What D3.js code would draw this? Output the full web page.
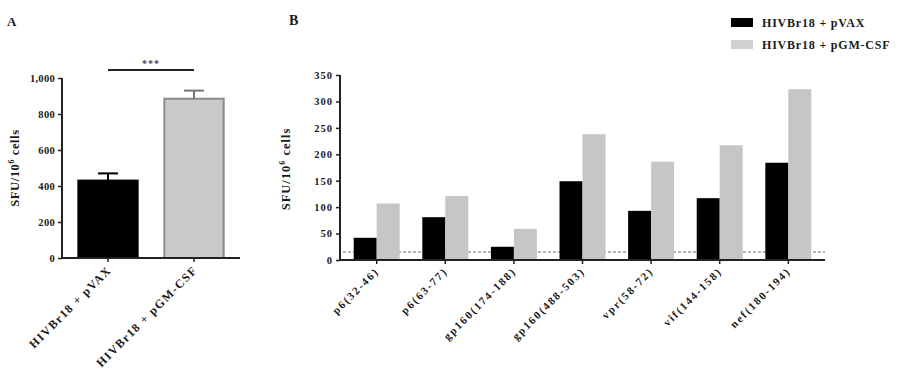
<!DOCTYPE html>
<html><head><meta charset="utf-8">
<script src="https://cdn.jsdelivr.net/npm/d3@7"></script>
<style>
body{margin:0;background:#fff;}
svg{display:block;font-family:"Liberation Serif","Times New Roman",serif;font-weight:bold;}
</style></head>
<body><svg id="c" width="914" height="374"></svg>
<script>
// Panel A data
const groupsA = ["HIVBr18 + pVAX", "HIVBr18 + pGM-CSF"];
const valuesA = [430, 885];
const errorsA = [40, 45];
const ticksA = [0, 200, 400, 600, 800, 1000];

// Panel B data
const epitopes = ["p6(32-46)", "p6(63-77)", "gp160(174-188)", "gp160(488-503)", "vpr(58-72)", "vif(144-158)", "nef(180-194)"];
const seriesNames = ["HIVBr18 + pVAX", "HIVBr18 + pGM-CSF"];
const pVAX = [42, 81, 25, 149, 93, 117, 184];
const pGMCSF = [107, 121, 59, 238, 186, 217, 323];
const ticksB = [0, 50, 100, 150, 200, 250, 300, 350];
const cutoffB = 15;

const svg = d3.select("#c");
const AX = "#222";
const TXT = "#1a1a1a";

// ---------- Panel A ----------
const gA = svg.append("g");
const yA = d3.scaleLinear().domain([0, 1000]).range([258, 78]);
const xA = d3.scaleBand().domain(groupsA).range([62, 240]).paddingInner(0.31).paddingOuter(0.19);

gA.append("text").attr("x", 7).attr("y", 26).attr("font-size", 13).attr("fill", TXT).text("A");

gA.selectAll("rect.bar").data(groupsA).join("rect")
  .attr("x", d => xA(d)).attr("width", xA.bandwidth())
  .attr("y", (d, i) => yA(valuesA[i])).attr("height", (d, i) => yA(0) - yA(valuesA[i]))
  .attr("fill", (d, i) => i === 0 ? "#000" : "#c9c9c9")
  .attr("stroke", (d, i) => i === 0 ? "#000" : "#8a8a8a").attr("stroke-width", 2);

// error bars
groupsA.forEach((d, i) => {
  const cx = xA(d) + xA.bandwidth() / 2;
  gA.append("line").attr("x1", cx).attr("x2", cx).attr("y1", yA(valuesA[i])).attr("y2", yA(valuesA[i] + errorsA[i]))
    .attr("stroke", i === 0 ? "#000" : "#777").attr("stroke-width", 2);
  gA.append("line").attr("x1", cx - 10).attr("x2", cx + 10).attr("y1", yA(valuesA[i] + errorsA[i])).attr("y2", yA(valuesA[i] + errorsA[i]))
    .attr("stroke", i === 0 ? "#000" : "#777").attr("stroke-width", 2);
});

const yAxisA = gA.append("g").attr("transform", "translate(62,0)")
  .call(d3.axisLeft(yA).tickValues(ticksA).tickSize(4).tickPadding(3).tickFormat(d3.format(",")))
  .attr("font-family", null).attr("font-size", null);
yAxisA.select(".domain").attr("stroke", AX).attr("stroke-width", 2).attr("d", `M0,${yA(1000)}V${yA(0)}`);
yAxisA.selectAll(".tick line").attr("stroke", AX).attr("stroke-width", 1.5);
yAxisA.selectAll("text").attr("font-size", 10.5).attr("fill", TXT).attr("letter-spacing", 0.3);

const xAxisA = gA.append("g").attr("transform", "translate(0,258)")
  .call(d3.axisBottom(xA).tickSize(4).tickFormat(""));
xAxisA.select(".domain").attr("stroke", AX).attr("stroke-width", 2).attr("d", "M62,0H240");
xAxisA.selectAll(".tick line").attr("stroke", AX).attr("stroke-width", 1.5);

groupsA.forEach(d => {
  const cx = xA(d) + xA.bandwidth() / 2;
  gA.append("text").attr("transform", `translate(${cx + 4},${271}) rotate(-45)`)
    .attr("text-anchor", "end").attr("font-size", 12).attr("letter-spacing", 1.3).attr("fill", TXT).text(d);
});

gA.append("text").attr("transform", "translate(19,168) rotate(-90)").attr("text-anchor", "middle")
  .attr("font-size", 12.5).attr("letter-spacing", 0.6).attr("fill", TXT)
  .html('SFU/10<tspan dy="-5" font-size="8">6</tspan><tspan dy="5"> cells</tspan>');

// significance
const cxA0 = xA(groupsA[0]) + xA.bandwidth() / 2, cxA1 = xA(groupsA[1]) + xA.bandwidth() / 2;
gA.append("line").attr("x1", cxA0).attr("x2", cxA1).attr("y1", 70).attr("y2", 70).attr("stroke", "#222").attr("stroke-width", 2);
gA.append("text").attr("x", (cxA0 + cxA1) / 2).attr("y", 67).attr("text-anchor", "middle").attr("font-size", 10).attr("letter-spacing", 1).attr("fill", "#444").text("***");

// ---------- Panel B ----------
const gB = svg.append("g");
const yB = d3.scaleLinear().domain([0, 350]).range([260, 75]);
const x0 = d3.scaleBand().domain(epitopes).range([340, 825]).paddingInner(0.33).paddingOuter(0.2);
const x1 = d3.scaleBand().domain(seriesNames).range([0, x0.bandwidth()]);
const colorsB = ["#000", "#c6c6c6"];

gB.append("text").attr("x", 289).attr("y", 25).attr("font-size", 14).attr("fill", TXT).text("B");

// cutoff dashed line (behind bars)
gB.append("line").attr("x1", 343).attr("x2", 825).attr("y1", yB(cutoffB)).attr("y2", yB(cutoffB))
  .attr("stroke", "#999").attr("stroke-width", 1.5).attr("stroke-dasharray", "3,2");

const seriesB = [pVAX, pGMCSF];
epitopes.forEach((ep, i) => {
  seriesNames.forEach((s, j) => {
    gB.append("rect").attr("x", x0(ep) + x1(s)).attr("width", x1.bandwidth())
      .attr("y", yB(seriesB[j][i])).attr("height", yB(0) - yB(seriesB[j][i]))
      .attr("fill", colorsB[j]);
  });
});

const yAxisB = gB.append("g").attr("transform", "translate(340,0)")
  .call(d3.axisLeft(yB).tickValues(ticksB).tickSize(4).tickPadding(3))
  .attr("font-family", null).attr("font-size", null);
yAxisB.select(".domain").attr("stroke", AX).attr("stroke-width", 2).attr("d", `M0,${yB(350)}V${yB(0)}`);
yAxisB.selectAll(".tick line").attr("stroke", AX).attr("stroke-width", 1.5);
yAxisB.selectAll("text").attr("font-size", 10.5).attr("fill", TXT).attr("letter-spacing", 1);

const xAxisB = gB.append("g").attr("transform", "translate(0,260)")
  .call(d3.axisBottom(x0).tickSize(4).tickFormat(""));
xAxisB.select(".domain").attr("stroke", AX).attr("stroke-width", 2).attr("d", "M340,0H825");
xAxisB.selectAll(".tick line").attr("stroke", AX).attr("stroke-width", 1.5);

epitopes.forEach(ep => {
  const cx = x0(ep) + x0.bandwidth() / 2;
  gB.append("text").attr("transform", `translate(${cx + 3},${272}) rotate(-45)`)
    .attr("text-anchor", "end").attr("font-size", 11).attr("letter-spacing", 1.8).attr("fill", TXT).text(ep);
});

gB.append("text").attr("transform", "translate(290,169) rotate(-90)").attr("text-anchor", "middle")
  .attr("font-size", 12.5).attr("letter-spacing", 1).attr("fill", TXT)
  .html('SFU/10<tspan dy="-5" font-size="8">6</tspan><tspan dy="5"> cells</tspan>');

// legend
const leg = svg.append("g");
seriesNames.forEach((s, j) => {
  const y = 18 + j * 22;
  leg.append("rect").attr("x", 731).attr("y", y).attr("width", 22).attr("height", 9).attr("fill", j === 0 ? "#000" : "#d0d0d0");
  leg.append("text").attr("x", 762).attr("y", y + 9).attr("font-size", 12).attr("letter-spacing", 0.8).attr("fill", TXT).text(s);
});
</script></body></html>
